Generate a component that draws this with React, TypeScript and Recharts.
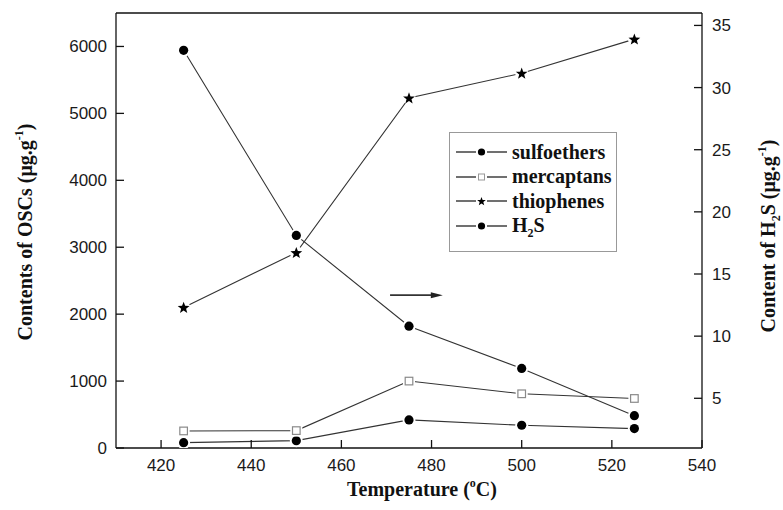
import React from "react";
import {
  ComposedChart,
  Line,
  XAxis,
  YAxis,
  Legend,
  ReferenceLine,
} from "recharts";

const temperatures = [425, 450, 475, 500, 525];
const sulfoethers = [80, 110, 420, 340, 290];
const mercaptans = [255, 260, 1000, 810, 740];
const thiophenes = [2100, 2920, 5230, 5600, 6110];
const h2s = [33.0, 18.1, 10.8, 7.4, 3.6];

const xTicks = [420, 440, 460, 480, 500, 520, 540];
const topTicks = [420, 440, 460, 480, 500, 520];
const leftTicks = [0, 1000, 2000, 3000, 4000, 5000, 6000];
const rightTicks = [5, 10, 15, 20, 25, 30, 35];
const xDomain = [410, 540];
const leftDomain = [0, 6500];
const rightDomain = [1, 36];
const arrowSegment = [
  { x: 470.8, y: 13.3 },
  { x: 482.5, y: 13.3 },
];

const data = temperatures.map((t, i) => ({
  t,
  sulfoethers: sulfoethers[i],
  mercaptans: mercaptans[i],
  thiophenes: thiophenes[i],
  h2s: h2s[i],
}));

const TICK_FONT = "'Liberation Sans', Arial, sans-serif";
const SERIF = "'Liberation Serif', 'Times New Roman', serif";
const AXIS_COLOR = "#111";
const LINE_COLOR = "#333";
const tickLineStyle = { stroke: AXIS_COLOR, strokeWidth: 1.3 };
const axisLineStyle = { stroke: AXIS_COLOR, strokeWidth: 1.3 };

const BottomTick = (props: any) => {
  const { x, y, payload } = props;
  return (
    <text x={x} y={y + 17} dy="0.35em" textAnchor="middle" fontFamily={TICK_FONT} fontSize={17} fill="#1a1a1a">
      {payload.value}
    </text>
  );
};

const LeftTick = (props: any) => {
  const { x, y, payload } = props;
  return (
    <text x={x - 9} y={y} dy="0.35em" textAnchor="end" fontFamily={TICK_FONT} fontSize={17} fill="#1a1a1a">
      {payload.value}
    </text>
  );
};

const RightTick = (props: any) => {
  const { x, y, payload } = props;
  return (
    <text x={x + 10} y={y} dy="0.35em" textAnchor="start" fontFamily={TICK_FONT} fontSize={17} fill="#1a1a1a">
      {payload.value}
    </text>
  );
};

const CircleDot = (props: any) => {
  const { cx, cy, index } = props;
  if (cx == null || cy == null) return <g key={index} />;
  return (
    <g key={index}>
      <circle cx={cx} cy={cy} r={6.5} fill="#fff" />
      <circle cx={cx} cy={cy} r={4.6} fill="#000" />
    </g>
  );
};

const SquareDot = (props: any) => {
  const { cx, cy, index } = props;
  if (cx == null || cy == null) return <g key={index} />;
  return (
    <g key={index}>
      <rect x={cx - 6} y={cy - 6} width={12} height={12} fill="#fff" />
      <rect x={cx - 3.8} y={cy - 3.8} width={7.6} height={7.6} fill="#fff" stroke="#8a8a8a" strokeWidth={1.2} />
    </g>
  );
};

const starPath = (cx: number, cy: number, R: number, r: number) => {
  const pts: string[] = [];
  for (let i = 0; i < 10; i++) {
    const rad = i % 2 === 0 ? R : r;
    const a = -Math.PI / 2 + (i * Math.PI) / 5;
    pts.push(`${cx + rad * Math.cos(a)},${cy + rad * Math.sin(a)}`);
  }
  return pts.join(" ");
};

const StarDot = (props: any) => {
  const { cx, cy, index } = props;
  if (cx == null || cy == null) return <g key={index} />;
  return (
    <g key={index}>
      <circle cx={cx} cy={cy} r={6.5} fill="#fff" />
      <polygon points={starPath(cx, cy + 0.5, 6.2, 2.6)} fill="#000" />
    </g>
  );
};

const ArrowShape = (props: any) => {
  const { x1, y1, x2 } = props;
  return (
    <g>
      <line x1={x1} y1={y1} x2={x2 - 8} y2={y1} stroke={LINE_COLOR} strokeWidth={1.6} />
      <polygon points={`${x2 - 12},${y1 - 3} ${x2},${y1} ${x2 - 12},${y1 + 3}`} fill="#222" />
    </g>
  );
};

const legendItems = [
  { key: "sulfoethers", label: <span>sulfoethers</span>, marker: "circle" },
  { key: "mercaptans", label: <span>mercaptans</span>, marker: "square" },
  { key: "thiophenes", label: <span>thiophenes</span>, marker: "star" },
  {
    key: "h2s",
    label: (
      <span>
        H<sub style={{ fontSize: 12, verticalAlign: "-5px", lineHeight: 0 }}>2</sub>S
      </span>
    ),
    marker: "circle",
  },
];

const LegendSymbol = ({ marker }: { marker: string }) => (
  <svg width={52} height={14} style={{ display: "block" }}>
    <line x1={0} y1={7} x2={20} y2={7} stroke="#222" strokeWidth={1.3} />
    <line x1={31} y1={7} x2={51} y2={7} stroke="#222" strokeWidth={1.3} />
    {marker === "circle" && <circle cx={25.5} cy={7} r={3.6} fill="#000" />}
    {marker === "square" && (
      <rect x={22.5} y={4} width={6} height={6} fill="#fff" stroke="#999" strokeWidth={1} />
    )}
    {marker === "star" && <polygon points={starPath(25.5, 7.5, 4.6, 1.9)} fill="#000" />}
  </svg>
);

const LegendContent = () => (
  <div
    style={{
      border: "1px solid #999",
      width: 168,
      height: 120,
      boxSizing: "border-box",
      paddingTop: 7,
      background: "#fff",
    }}
  >
    {legendItems.map((it) => (
      <div
        key={it.key}
        style={{
          display: "flex",
          alignItems: "center",
          height: 24.5,
          fontFamily: SERIF,
          fontWeight: "bold",
          fontSize: 20,
          color: "#111",
        }}
      >
        <div style={{ width: 6 }} />
        <LegendSymbol marker={it.marker} />
        <div style={{ width: 4 }} />
        {it.label}
      </div>
    ))}
  </div>
);

const XLabel = () => (
  <text x={422} y={496} textAnchor="middle" fontFamily={SERIF} fontWeight="bold" fontSize={20} fill="#111">
    Temperature (
    <tspan fontSize={12} dy={-9}>o</tspan>
    <tspan dy={9}>C)</tspan>
  </text>
);

const LeftLabel = () => (
  <text
    transform="translate(32,232) rotate(-90)"
    x={0}
    y={0}
    textAnchor="middle"
    fontFamily={SERIF}
    fontWeight="bold"
    fontSize={20}
    fill="#111"
  >
    Contents of OSCs (μg.g
    <tspan fontSize={12} dy={-9}>-1</tspan>
    <tspan dy={9}>)</tspan>
  </text>
);

const RightLabel = () => (
  <text
    transform="translate(775,236) rotate(-90)"
    x={0}
    y={0}
    textAnchor="middle"
    fontFamily={SERIF}
    fontWeight="bold"
    fontSize={20}
    fill="#111"
  >
    Content of H
    <tspan fontSize={12} dy={5}>2</tspan>
    <tspan dy={-5}>S (μg.g</tspan>
    <tspan fontSize={12} dy={-9}>-1</tspan>
    <tspan dy={9}>)</tspan>
  </text>
);

export default function App() {
  return (
    <div style={{ position: "absolute", left: 0, top: 0, width: 783, height: 510, background: "#fff" }}>
      <ComposedChart width={783} height={510} data={data} margin={{ top: 12, right: 0, bottom: 0, left: 0 }}>
        <XAxis
          dataKey="t"
          type="number"
          domain={xDomain}
          ticks={xTicks}
          interval={0}
          height={62}
          tickSize={-8}
          tickMargin={8}
          tickLine={tickLineStyle}
          tick={<BottomTick />}
          axisLine={axisLineStyle}
          allowDataOverflow
          label={<XLabel />}
        />
        <XAxis
          xAxisId="top"
          dataKey="t"
          type="number"
          orientation="top"
          domain={xDomain}
          ticks={topTicks}
          interval={0}
          height={1}
          tickSize={-8}
          tickMargin={0}
          tickLine={tickLineStyle}
          tick={false}
          axisLine={axisLineStyle}
          allowDataOverflow
        />
        <YAxis
          yAxisId="left"
          orientation="left"
          type="number"
          domain={leftDomain}
          ticks={leftTicks}
          interval={0}
          width={116}
          tickSize={-8}
          tickMargin={8}
          tickLine={tickLineStyle}
          tick={<LeftTick />}
          axisLine={axisLineStyle}
          allowDataOverflow
          label={<LeftLabel />}
        />
        <YAxis
          yAxisId="right"
          orientation="right"
          type="number"
          domain={rightDomain}
          ticks={rightTicks}
          interval={0}
          width={81}
          tickSize={-8}
          tickMargin={8}
          tickLine={tickLineStyle}
          tick={<RightTick />}
          axisLine={axisLineStyle}
          allowDataOverflow
          label={<RightLabel />}
        />
        <Legend
          content={<LegendContent />}
          wrapperStyle={{ position: "absolute", left: 449, top: 132, width: 168, height: 0, overflow: "visible" }}
        />
        <ReferenceLine yAxisId="right" segment={arrowSegment} shape={<ArrowShape />} stroke={LINE_COLOR} />
        <Line yAxisId="left" dataKey="sulfoethers" stroke={LINE_COLOR} strokeWidth={1.1} dot={<CircleDot />} activeDot={false} isAnimationActive={false} legendType="none" />
        <Line yAxisId="left" dataKey="mercaptans" stroke={LINE_COLOR} strokeWidth={1.1} dot={<SquareDot />} activeDot={false} isAnimationActive={false} legendType="none" />
        <Line yAxisId="left" dataKey="thiophenes" stroke={LINE_COLOR} strokeWidth={1.1} dot={<StarDot />} activeDot={false} isAnimationActive={false} legendType="none" />
        <Line yAxisId="right" dataKey="h2s" stroke={LINE_COLOR} strokeWidth={1.1} dot={<CircleDot />} activeDot={false} isAnimationActive={false} legendType="none" />
      </ComposedChart>
    </div>
  );
}
